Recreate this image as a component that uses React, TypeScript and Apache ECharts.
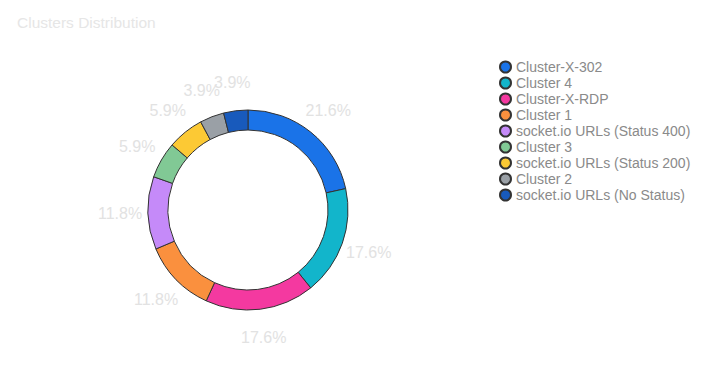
import React, { useEffect, useRef } from "react";
import * as echarts from "echarts";

const categories = [
  "Cluster-X-302",
  "Cluster 4",
  "Cluster-X-RDP",
  "Cluster 1",
  "socket.io URLs (Status 400)",
  "Cluster 3",
  "socket.io URLs (Status 200)",
  "Cluster 2",
  "socket.io URLs (No Status)",
];
const counts = [11, 9, 9, 6, 6, 3, 3, 2, 2];
const colors = [
  "#1a73e8",
  "#12b5cb",
  "#f439a0",
  "#fa903e",
  "#c58af9",
  "#81c995",
  "#fcc934",
  "#9aa0a6",
  "#185abc",
];
const titleText = "Clusters Distribution";

export default function App() {
  const ref = useRef<HTMLDivElement>(null);
  useEffect(() => {
    if (!ref.current) return;
    const chart = echarts.init(ref.current, undefined, { renderer: "svg" });
    const data = categories.map((name, i) => ({
      name,
      value: counts[i],
      itemStyle: { color: colors[i] },
    }));
    const labelData = categories.map((name, i) => ({
      name,
      value: counts[i],
    }));
    chart.setOption({
      animation: false,
      backgroundColor: "#ffffff",
      textStyle: { fontFamily: "Liberation Sans, Arial, sans-serif" },
      title: {
        text: titleText,
        left: 12,
        top: 9,
        textStyle: {
          color: "#e6e6e6",
          fontSize: 15.5,
          fontWeight: "normal",
          fontFamily: "Liberation Sans, Arial, sans-serif",
        },
      },
      legend: {
        orient: "vertical",
        left: 499,
        top: 60,
        padding: 0,
        icon: "circle",
        itemWidth: 11,
        itemHeight: 11,
        itemGap: 2,
        data: categories,
        textStyle: {
          color: "#8a8a8a",
          fontSize: 14,
          fontFamily: "Liberation Sans, Arial, sans-serif",
        },
      },
      series: [
        {
          type: "pie",
          center: [248, 210],
          radius: [80, 100],
          startAngle: 90,
          clockwise: true,
          silent: true,
          avoidLabelOverlap: false,
          label: { show: false },
          labelLine: { show: false },
          itemStyle: { borderColor: "#333333", borderWidth: 1 },
          emphasis: { disabled: true },
          data,
        },
        {
          type: "pie",
          center: [248, 210],
          radius: [115, 135],
          startAngle: 90,
          clockwise: true,
          silent: true,
          avoidLabelOverlap: false,
          legendHoverLink: false,
          itemStyle: { color: "rgba(0,0,0,0)", borderWidth: 0 },
          label: {
            show: true,
            position: "inside",
            formatter: (p: any) => `${p.percent.toFixed(1)}%`,
            color: "#e2e2e2",
            fontSize: 16,
            fontFamily: "Liberation Sans, Arial, sans-serif",
          },
          labelLayout: { hideOverlap: false },
          labelLine: { show: false },
          emphasis: { disabled: true },
          data: labelData,
        },
      ],
    });
    return () => chart.dispose();
  }, []);
  return (
    <div
      ref={ref}
      style={{ position: "fixed", left: 0, top: 0, width: 708, height: 380 }}
    />
  );
}
